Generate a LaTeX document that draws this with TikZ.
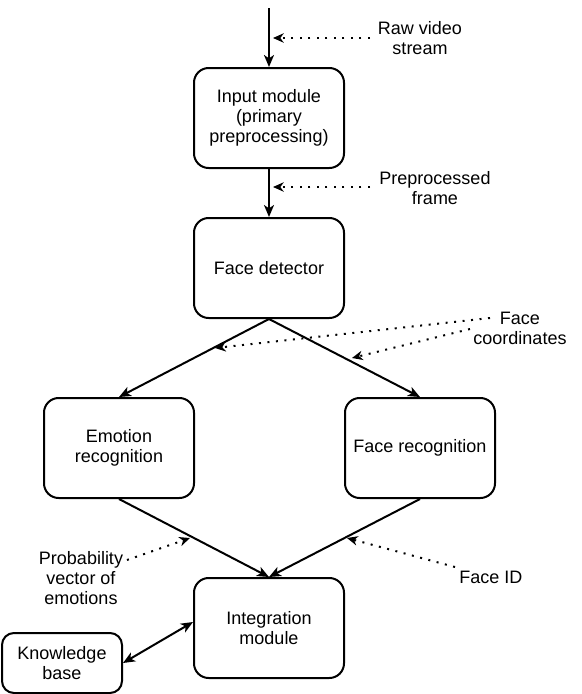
\documentclass[tikz,border=0pt]{standalone}
\usepackage{fontspec}
\setmainfont{Liberation Sans}
\usetikzlibrary{arrows.meta}
\begin{document}
\begin{tikzpicture}[x=0.75pt,y=-0.75pt,
  font=\fontsize{13.5}{15}\selectfont,
  box/.style={draw, line width=1.5pt, rounded corners=11pt, minimum width=112.5pt, minimum height=75pt, align=center, inner sep=2pt},
  smallbox/.style={box, minimum width=90pt, minimum height=45pt, rounded corners=9pt},
  lbl/.style={align=center, inner sep=0pt},
  flow/.style={line width=1.5pt, -{Stealth[length=9pt,width=7.5pt,inset=2.5pt]}},
  both/.style={line width=1.5pt, {Stealth[length=9pt,width=7.5pt,inset=2.5pt]}-{Stealth[length=9pt,width=7.5pt,inset=2.5pt]}},
  note/.style={line width=1.5pt, dash pattern=on 1.5pt off 4.9pt, -{Stealth[length=8pt,width=7pt,inset=2.5pt]}}
]
\useasboundingbox (0,0) rectangle (582,694);

\node[box] (input) at (269,118) {Input module\\(primary\\preprocessing)};
\node[box] (detect) at (269,268) {Face detector};
\node[box] (emotion) at (119,448) {Emotion\\recognition};
\node[box] (facerec) at (420,448) {Face recognition};
\node[box] (integ) at (269,628) {Integration\\module};
\node[smallbox] (kb) at (62,663) {Knowledge\\base};

\node[lbl] (raw) at (420,38) {Raw video\\stream};
\node[lbl] (prep) at (435,188) {Preprocessed\\frame};
\node[lbl] (fcoord) at (520,328) {Face\\coordinates};
\node[lbl] (prob) at (81,578) {Probability\\vector of\\emotions};
\node[lbl] (faceid) at (491,577) {Face ID};

\coordinate (src) at (269,8);
\coordinate (rawS) at (370,38);
\coordinate (rawE) at (273,38);
\coordinate (prepS) at (370,187);
\coordinate (prepE) at (273,187);
\coordinate (fc1S) at (490,318);
\coordinate (fc1E) at (215,348);
\coordinate (fc2S) at (470,329);
\coordinate (fc2E) at (352,358);
\coordinate (probS) at (127,560);
\coordinate (probE) at (190,538);
\coordinate (fidS) at (455,567);
\coordinate (fidE) at (347,538);

\draw[flow] (src) -- (input.north);
\draw[flow] (input.south) -- (detect.north);
\draw[flow] (detect.south) -- (emotion.north);
\draw[flow] (detect.south) -- (facerec.north);
\draw[flow] (emotion.south) -- (integ.north);
\draw[flow] (facerec.south) -- (integ.north);
\draw[both] (kb.east) -- ([yshift=4.5pt]integ.west);

\draw[note] (rawS) -- (rawE);
\draw[note] (prepS) -- (prepE);
\draw[note] (fc1S) -- (fc1E);
\draw[note] (fc2S) -- (fc2E);
\draw[note] (probS) -- (probE);
\draw[note] (fidS) -- (fidE);
\end{tikzpicture}
\end{document}
